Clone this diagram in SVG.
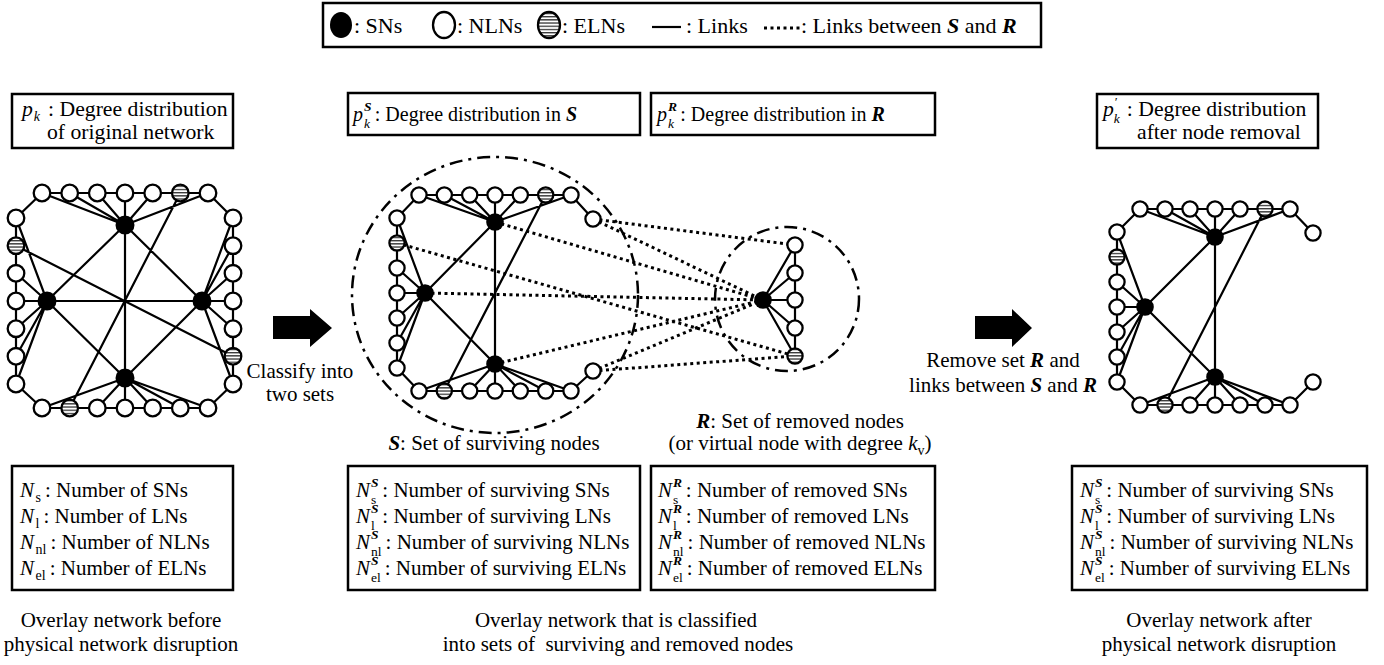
<svg xmlns="http://www.w3.org/2000/svg" width="1384" height="665" viewBox="0 0 1384 665">
<defs>
<pattern id="stripe" patternUnits="userSpaceOnUse" width="8" height="3.2"><rect width="8" height="3.2" fill="#fff"/><rect width="8" height="1.3" fill="#333"/></pattern>
<style>
.t{font-family:"Liberation Serif","Times New Roman",serif;font-size:21px;fill:#000}
.lg{font-size:22px}
.tb{font-size:21.7px}
.tm{font-size:20px}
.i{font-style:italic}
.bi{font-style:italic;font-weight:bold}
.sb{font-size:14px}
.sc{font-size:13.5px}
.box{fill:#fff;stroke:#000;stroke-width:2.5}
.ln{stroke:#000;stroke-width:2.2;fill:none}
.dt{stroke:#000;stroke-width:3;stroke-dasharray:3 3.5;fill:none}
.dd{stroke:#000;stroke-width:2.5;stroke-dasharray:13 6 3 6;fill:none}
.n{fill:#fff;stroke:#000;stroke-width:2.3}
.e{fill:url(#stripe);stroke:#000;stroke-width:2.3}
.s{fill:#000}
</style>
</defs>
<rect width="1384" height="665" fill="#fff"/>

<g id="legend">
<rect class="box" x="323" y="3" width="718" height="44"/>
<ellipse class="s" cx="341" cy="25" rx="11" ry="13"/>
<text class="t lg" x="354" y="33">: SNs</text>
<ellipse class="n" cx="444" cy="25" rx="11" ry="13"/>
<text class="t lg" x="457" y="33">: NLNs</text>
<ellipse class="e" cx="549" cy="25" rx="11" ry="13"/>
<text class="t lg" x="562" y="33">: ELNs</text>
<line class="ln" x1="652" y1="27" x2="681" y2="27" stroke-width="3"/>
<text class="t lg" x="686" y="33">: Links</text>
<line class="dt" x1="764" y1="28" x2="800" y2="28"/>
<text class="t lg" x="801" y="33">: Links between <tspan class="bi">S</tspan> and <tspan class="bi">R</tspan></text>
</g>

<!-- top boxes -->
<g id="box-pk">
<rect class="box" x="12" y="94" width="221" height="54"/>
<text class="t tb" x="22" y="116"><tspan class="i">p</tspan><tspan class="sb i" dx="1" dy="5">k</tspan><tspan dx="8" dy="-5">: Degree distribution</tspan></text>
<text class="t tb" x="47" y="139">of original network</text>
</g>
<g id="box-pkS">
<rect class="box" x="348" y="93" width="292" height="42"/>
<text class="t tm" x="353" y="121"><tspan class="i">p</tspan><tspan class="sc bi" dx="1" dy="-10">S</tspan><tspan class="sc i" dx="-7.5" dy="16.5">k</tspan><tspan dx="4.8" dy="-6.5">: Degree distribution in </tspan><tspan class="bi">S</tspan></text>
</g>
<g id="box-pkR">
<rect class="box" x="651" y="93" width="284" height="42"/>
<text class="t tm" x="657" y="121"><tspan class="i">p</tspan><tspan class="sc bi" dx="1" dy="-10">R</tspan><tspan class="sc i" dx="-9" dy="16.5">k</tspan><tspan dx="6.3" dy="-6.5">: Degree distribution in </tspan><tspan class="bi">R</tspan></text>
</g>
<g id="box-pkp">
<rect class="box" x="1097" y="94" width="221" height="54"/>
<text class="t tb" x="1103" y="116"><tspan class="i">p</tspan><tspan class="sc" dx="1" dy="-10">′</tspan><tspan class="sc i" dx="-4" dy="16.5">k</tspan><tspan dx="7" dy="-6.5">: Degree distribution</tspan></text>
<text class="t tb" x="1137" y="139">after node removal</text>
</g>

<!-- connectors -->
<g id="connectors">
<path class="ln" d="M42 193H208 M42 408H208 M16 218V384 M233 218V384 M16 218L42 193 M208 193L233 218 M16 384L42 408 M208 408L233 384 M125 225L42 193 M125 225L69.7 193 M125 225L97.3 193 M125 225V193 M125 225L152.7 193 M125 225L208 193 M125 378L42 408 M125 378L97.3 408 M125 378V408 M125 378L152.7 408 M125 378L180.3 408 M125 378L208 408 M47 301L16 218 M47 301L16 273.3 M47 301H16 M47 301L16 328.7 M47 301L16 356.3 M47 301L16 384 M202 301L233 218 M202 301L233 245.7 M202 301L233 273.3 M202 301H233 M202 301L233 328.7 M202 301L233 384 M125 225L47 301 M125 225L202 301 M125 378L47 301 M125 378L202 301 M125 225V378 M47 301H202 M180.3 193L69.7 408 M16 245.7L233 356.3"/>
<path class="ln" d="M419 195H571 M419 391H571 M397 218V368 M397 218L419 195 M397 368L419 391 M571 195L593 219 M571 391L593 371 M495 222L419 195 M495 222L444.3 195 M495 222L469.7 195 M495 222V195 M495 222L520.3 195 M495 222L571 195 M495 364L419 391 M495 364L469.7 391 M495 364V391 M495 364L520.3 391 M495 364L545.7 391 M495 364L571 391 M425 293L397 218 M425 293L397 268 M425 293H397 M425 293L397 318 M425 293L397 343 M425 293L397 368 M495 222L425 293 M425 293L495 364 M495 222V364 M545.7 195L444.3 391"/>
<path class="ln" d="M795 245V356 M763 300L795 245 M763 300L795 273 M763 300H795 M763 300L795 328 M763 300L795 356"/>
<path class="dt" d="M495 222L763 300 M397 243L795 356 M425 293L763 300 M495 364L763 300 M593 219L795 245 M593 219L763 300 M593 371L763 300 M593 371L795 356"/>
<path class="ln" d="M1140 209H1290 M1140 405H1290 M1117 232V382 M1117 232L1140 209 M1117 382L1140 405 M1290 209L1313 233 M1290 405L1313 382 M1215 237L1140 209 M1215 237L1165 209 M1215 237L1190 209 M1215 237V209 M1215 237L1240 209 M1215 237L1290 209 M1215 377L1140 405 M1215 377L1190 405 M1215 377V405 M1215 377L1240 405 M1215 377L1265 405 M1215 377L1290 405 M1145 307L1117 232 M1145 307L1117 282 M1145 307H1117 M1145 307L1117 332 M1145 307L1117 357 M1145 307L1117 382 M1215 237L1145 307 M1145 307L1215 377 M1215 237V377 M1265 209L1165 405"/>
<ellipse class="dd" cx="495" cy="295" rx="143" ry="138"/>
<circle class="dd" cx="787" cy="299" r="72"/>
</g>

<!-- left network nodes -->
<g id="A-t1"><circle class="n" cx="42" cy="193" r="8.3"/></g>
<g id="A-t2"><circle class="n" cx="69.7" cy="193" r="8.3"/></g>
<g id="A-t3"><circle class="n" cx="97.3" cy="193" r="8.3"/></g>
<g id="A-t4"><circle class="n" cx="125" cy="193" r="8.3"/></g>
<g id="A-t5"><circle class="n" cx="152.7" cy="193" r="8.3"/></g>
<g id="A-t6"><circle class="e" cx="180.3" cy="193" r="8.3"/></g>
<g id="A-t7"><circle class="n" cx="208" cy="193" r="8.3"/></g>
<g id="A-b1"><circle class="n" cx="42" cy="408" r="8.3"/></g>
<g id="A-b2"><circle class="e" cx="69.7" cy="408" r="8.3"/></g>
<g id="A-b3"><circle class="n" cx="97.3" cy="408" r="8.3"/></g>
<g id="A-b4"><circle class="n" cx="125" cy="408" r="8.3"/></g>
<g id="A-b5"><circle class="n" cx="152.7" cy="408" r="8.3"/></g>
<g id="A-b6"><circle class="n" cx="180.3" cy="408" r="8.3"/></g>
<g id="A-b7"><circle class="n" cx="208" cy="408" r="8.3"/></g>
<g id="A-l1"><circle class="n" cx="16" cy="218" r="8.3"/></g>
<g id="A-l2"><circle class="e" cx="16" cy="245.7" r="8.3"/></g>
<g id="A-l3"><circle class="n" cx="16" cy="273.3" r="8.3"/></g>
<g id="A-l4"><circle class="n" cx="16" cy="301" r="8.3"/></g>
<g id="A-l5"><circle class="n" cx="16" cy="328.7" r="8.3"/></g>
<g id="A-l6"><circle class="n" cx="16" cy="356.3" r="8.3"/></g>
<g id="A-l7"><circle class="n" cx="16" cy="384" r="8.3"/></g>
<g id="A-r1"><circle class="n" cx="233" cy="218" r="8.3"/></g>
<g id="A-r2"><circle class="n" cx="233" cy="245.7" r="8.3"/></g>
<g id="A-r3"><circle class="n" cx="233" cy="273.3" r="8.3"/></g>
<g id="A-r4"><circle class="n" cx="233" cy="301" r="8.3"/></g>
<g id="A-r5"><circle class="n" cx="233" cy="328.7" r="8.3"/></g>
<g id="A-r6"><circle class="e" cx="233" cy="356.3" r="8.3"/></g>
<g id="A-r7"><circle class="n" cx="233" cy="384" r="8.3"/></g>
<g id="A-sT"><circle class="s" cx="125" cy="225" r="9.5"/></g>
<g id="A-sL"><circle class="s" cx="47" cy="301" r="9.5"/></g>
<g id="A-sR"><circle class="s" cx="202" cy="301" r="9.5"/></g>
<g id="A-sB"><circle class="s" cx="125" cy="378" r="9.5"/></g>

<!-- middle S nodes -->
<g id="S-t1"><circle class="n" cx="419" cy="195" r="7.6"/></g>
<g id="S-t2"><circle class="n" cx="444.3" cy="195" r="7.6"/></g>
<g id="S-t3"><circle class="n" cx="469.7" cy="195" r="7.6"/></g>
<g id="S-t4"><circle class="n" cx="495" cy="195" r="7.6"/></g>
<g id="S-t5"><circle class="n" cx="520.3" cy="195" r="7.6"/></g>
<g id="S-t6"><circle class="e" cx="545.7" cy="195" r="7.6"/></g>
<g id="S-t7"><circle class="n" cx="571" cy="195" r="7.6"/></g>
<g id="S-b1"><circle class="n" cx="419" cy="391" r="7.6"/></g>
<g id="S-b2"><circle class="e" cx="444.3" cy="391" r="7.6"/></g>
<g id="S-b3"><circle class="n" cx="469.7" cy="391" r="7.6"/></g>
<g id="S-b4"><circle class="n" cx="495" cy="391" r="7.6"/></g>
<g id="S-b5"><circle class="n" cx="520.3" cy="391" r="7.6"/></g>
<g id="S-b6"><circle class="n" cx="545.7" cy="391" r="7.6"/></g>
<g id="S-b7"><circle class="n" cx="571" cy="391" r="7.6"/></g>
<g id="S-l1"><circle class="n" cx="397" cy="218" r="7.6"/></g>
<g id="S-l2"><circle class="e" cx="397" cy="243" r="7.6"/></g>
<g id="S-l3"><circle class="n" cx="397" cy="268" r="7.6"/></g>
<g id="S-l4"><circle class="n" cx="397" cy="293" r="7.6"/></g>
<g id="S-l5"><circle class="n" cx="397" cy="318" r="7.6"/></g>
<g id="S-l6"><circle class="n" cx="397" cy="343" r="7.6"/></g>
<g id="S-l7"><circle class="n" cx="397" cy="368" r="7.6"/></g>
<g id="S-r1"><circle class="n" cx="593" cy="219" r="7.6"/></g>
<g id="S-r7"><circle class="n" cx="593" cy="371" r="7.6"/></g>
<g id="S-sT"><circle class="s" cx="495" cy="222" r="8.8"/></g>
<g id="S-sL"><circle class="s" cx="425" cy="293" r="8.8"/></g>
<g id="S-sB"><circle class="s" cx="495" cy="364" r="8.8"/></g>

<!-- R nodes -->
<g id="R-n1"><circle class="n" cx="795" cy="245" r="7.6"/></g>
<g id="R-n2"><circle class="n" cx="795" cy="273" r="7.6"/></g>
<g id="R-n3"><circle class="n" cx="795" cy="300" r="7.6"/></g>
<g id="R-n4"><circle class="n" cx="795" cy="328" r="7.6"/></g>
<g id="R-e"><circle class="e" cx="795" cy="356" r="7.6"/></g>
<g id="R-s"><circle class="s" cx="763" cy="300" r="8.8"/></g>

<!-- right network nodes -->
<g id="C-t1"><circle class="n" cx="1140" cy="209" r="7.6"/></g>
<g id="C-t2"><circle class="n" cx="1165" cy="209" r="7.6"/></g>
<g id="C-t3"><circle class="n" cx="1190" cy="209" r="7.6"/></g>
<g id="C-t4"><circle class="n" cx="1215" cy="209" r="7.6"/></g>
<g id="C-t5"><circle class="n" cx="1240" cy="209" r="7.6"/></g>
<g id="C-t6"><circle class="e" cx="1265" cy="209" r="7.6"/></g>
<g id="C-t7"><circle class="n" cx="1290" cy="209" r="7.6"/></g>
<g id="C-b1"><circle class="n" cx="1140" cy="405" r="7.6"/></g>
<g id="C-b2"><circle class="e" cx="1165" cy="405" r="7.6"/></g>
<g id="C-b3"><circle class="n" cx="1190" cy="405" r="7.6"/></g>
<g id="C-b4"><circle class="n" cx="1215" cy="405" r="7.6"/></g>
<g id="C-b5"><circle class="n" cx="1240" cy="405" r="7.6"/></g>
<g id="C-b6"><circle class="n" cx="1265" cy="405" r="7.6"/></g>
<g id="C-b7"><circle class="n" cx="1290" cy="405" r="7.6"/></g>
<g id="C-l1"><circle class="n" cx="1117" cy="232" r="7.6"/></g>
<g id="C-l2"><circle class="e" cx="1117" cy="257" r="7.6"/></g>
<g id="C-l3"><circle class="n" cx="1117" cy="282" r="7.6"/></g>
<g id="C-l4"><circle class="n" cx="1117" cy="307" r="7.6"/></g>
<g id="C-l5"><circle class="n" cx="1117" cy="332" r="7.6"/></g>
<g id="C-l6"><circle class="n" cx="1117" cy="357" r="7.6"/></g>
<g id="C-l7"><circle class="n" cx="1117" cy="382" r="7.6"/></g>
<g id="C-r1"><circle class="n" cx="1313" cy="233" r="7.6"/></g>
<g id="C-r7"><circle class="n" cx="1313" cy="382" r="7.6"/></g>
<g id="C-sT"><circle class="s" cx="1215" cy="237" r="8.8"/></g>
<g id="C-sL"><circle class="s" cx="1145" cy="307" r="8.8"/></g>
<g id="C-sB"><circle class="s" cx="1215" cy="377" r="8.8"/></g>

<!-- arrows and their labels -->
<g id="arrow1">
<polygon class="s" points="273,316 310,316 310,309 332,328 310,347 310,339 273,339"/>
<text class="t" x="300" y="378" text-anchor="middle">Classify into</text>
<text class="t" x="300" y="401" text-anchor="middle">two sets</text>
</g>
<g id="arrow2">
<polygon class="s" points="975,316 1012,316 1012,309 1032,328 1012,347 1012,339 975,339"/>
<text class="t" x="1003" y="367" text-anchor="middle">Remove set <tspan class="bi">R</tspan> and</text>
<text class="t" x="1003" y="392" text-anchor="middle">links between <tspan class="bi">S</tspan> and <tspan class="bi">R</tspan></text>
</g>

<!-- set labels -->
<g id="label-S"><text class="t" x="494" y="450" text-anchor="middle"><tspan class="bi">S</tspan>: Set of surviving nodes</text></g>
<g id="label-R">
<text class="t" x="800" y="428" text-anchor="middle"><tspan class="bi">R</tspan>: Set of removed nodes</text>
<text class="t" x="800" y="450" text-anchor="middle">(or virtual node with degree <tspan class="i">k</tspan><tspan class="sb" dy="5">v</tspan><tspan dy="-5">)</tspan></text>
</g>

<!-- bottom boxes -->
<g id="box-N">
<rect class="box" x="12" y="466" width="221" height="124"/>
<text class="t" x="20" y="497"><tspan class="i">N</tspan><tspan class="sb" dx="1.5" dy="5">s</tspan><tspan dx="4" dy="-5">: Number of SNs</tspan></text>
<text class="t" x="20" y="523"><tspan class="i">N</tspan><tspan class="sb" dx="1.5" dy="5">l</tspan><tspan dx="4" dy="-5">: Number of LNs</tspan></text>
<text class="t" x="20" y="549"><tspan class="i">N</tspan><tspan class="sb" dx="1.5" dy="5">nl</tspan><tspan dx="4" dy="-5">: Number of NLNs</tspan></text>
<text class="t" x="20" y="575"><tspan class="i">N</tspan><tspan class="sb" dx="1.5" dy="5">el</tspan><tspan dx="4" dy="-5">: Number of ELNs</tspan></text>
</g>
<g id="box-NS">
<rect class="box" x="348" y="466" width="292" height="124"/>
<text class="t" x="356" y="497"><tspan class="i">N</tspan><tspan class="sc bi" dx="1" dy="-10">S</tspan><tspan class="sc" dx="-7.5" dy="16.5">s</tspan><tspan dx="6" dy="-6.5">: Number of surviving SNs</tspan></text>
<text class="t" x="356" y="523"><tspan class="i">N</tspan><tspan class="sc bi" dx="1" dy="-10">S</tspan><tspan class="sc" dx="-7.5" dy="16.5">l</tspan><tspan dx="7.5" dy="-6.5">: Number of surviving LNs</tspan></text>
<text class="t" x="356" y="549"><tspan class="i">N</tspan><tspan class="sc bi" dx="1" dy="-10">S</tspan><tspan class="sc" dx="-7.5" dy="16.5">nl</tspan><tspan dx="4" dy="-6.5">: Number of surviving NLNs</tspan></text>
<text class="t" x="356" y="575"><tspan class="i">N</tspan><tspan class="sc bi" dx="1" dy="-10">S</tspan><tspan class="sc" dx="-7.5" dy="16.5">el</tspan><tspan dx="4" dy="-6.5">: Number of surviving ELNs</tspan></text>
</g>
<g id="box-NR">
<rect class="box" x="651" y="466" width="284" height="124"/>
<text class="t" x="658" y="497"><tspan class="i">N</tspan><tspan class="sc bi" dx="1" dy="-10">R</tspan><tspan class="sc" dx="-9" dy="16.5">s</tspan><tspan dx="7.5" dy="-6.5">: Number of removed SNs</tspan></text>
<text class="t" x="658" y="523"><tspan class="i">N</tspan><tspan class="sc bi" dx="1" dy="-10">R</tspan><tspan class="sc" dx="-9" dy="16.5">l</tspan><tspan dx="9" dy="-6.5">: Number of removed LNs</tspan></text>
<text class="t" x="658" y="549"><tspan class="i">N</tspan><tspan class="sc bi" dx="1" dy="-10">R</tspan><tspan class="sc" dx="-9" dy="16.5">nl</tspan><tspan dx="4" dy="-6.5">: Number of removed NLNs</tspan></text>
<text class="t" x="658" y="575"><tspan class="i">N</tspan><tspan class="sc bi" dx="1" dy="-10">R</tspan><tspan class="sc" dx="-9" dy="16.5">el</tspan><tspan dx="4" dy="-6.5">: Number of removed ELNs</tspan></text>
</g>
<g id="box-NSp">
<rect class="box" x="1072" y="466" width="295" height="124"/>
<text class="t" x="1080" y="497"><tspan class="i">N</tspan><tspan class="sc bi" dx="1" dy="-10">S</tspan><tspan class="sc" dx="-7.5" dy="16.5">s</tspan><tspan dx="6" dy="-6.5">: Number of surviving SNs</tspan></text>
<text class="t" x="1080" y="523"><tspan class="i">N</tspan><tspan class="sc bi" dx="1" dy="-10">S</tspan><tspan class="sc" dx="-7.5" dy="16.5">l</tspan><tspan dx="7.5" dy="-6.5">: Number of surviving LNs</tspan></text>
<text class="t" x="1080" y="549"><tspan class="i">N</tspan><tspan class="sc bi" dx="1" dy="-10">S</tspan><tspan class="sc" dx="-7.5" dy="16.5">nl</tspan><tspan dx="4" dy="-6.5">: Number of surviving NLNs</tspan></text>
<text class="t" x="1080" y="575"><tspan class="i">N</tspan><tspan class="sc bi" dx="1" dy="-10">S</tspan><tspan class="sc" dx="-7.5" dy="16.5">el</tspan><tspan dx="4" dy="-6.5">: Number of surviving ELNs</tspan></text>
</g>

<!-- captions -->
<g id="cap-left">
<text class="t" x="121" y="627" text-anchor="middle">Overlay network before</text>
<text class="t" x="121" y="651" text-anchor="middle">physical network disruption</text>
</g>
<g id="cap-mid">
<text class="t" x="616" y="627" text-anchor="middle">Overlay network that is classified</text>
<text class="t" x="618" y="651" text-anchor="middle">into sets of&#160; surviving and removed nodes</text>
</g>
<g id="cap-right">
<text class="t" x="1219" y="627" text-anchor="middle">Overlay network after</text>
<text class="t" x="1219" y="651" text-anchor="middle">physical network disruption</text>
</g>
</svg>
